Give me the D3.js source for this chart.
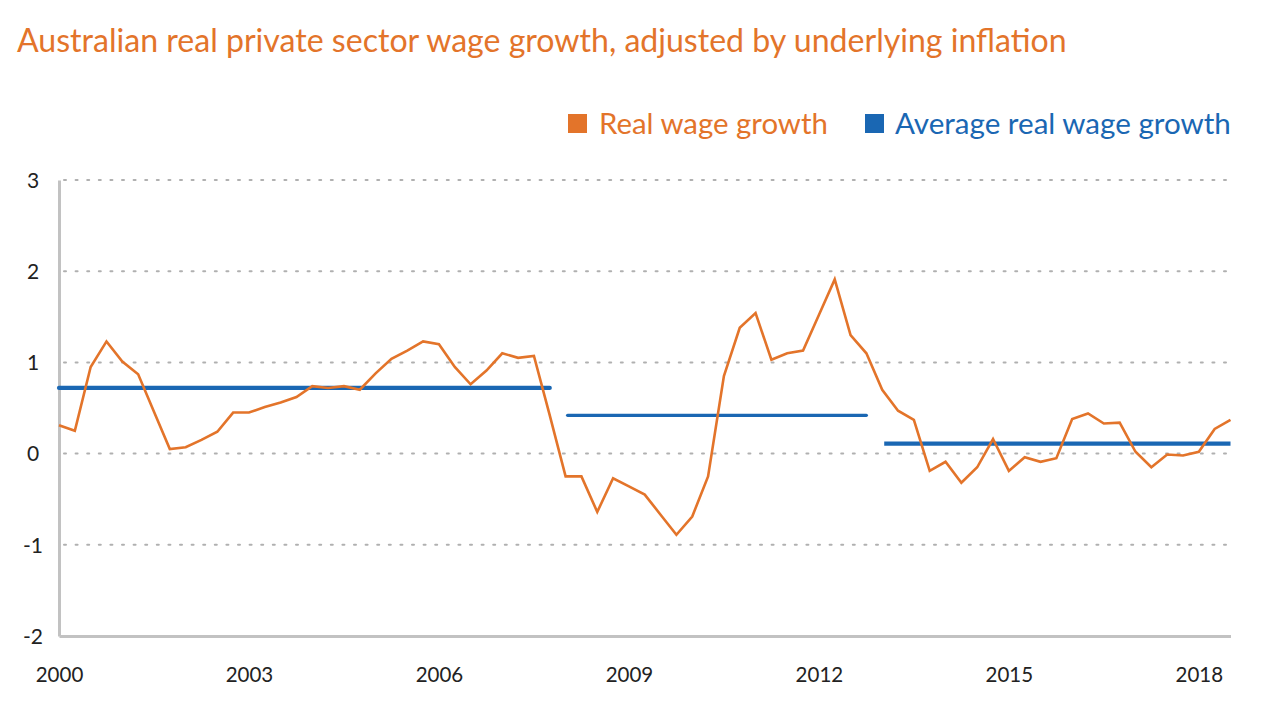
<!DOCTYPE html>
<html><head><meta charset="utf-8">
<script src="https://cdn.jsdelivr.net/npm/d3@7"></script>
<style>html,body{margin:0;padding:0;background:#fff;}svg{display:block;}</style>
</head><body>
<svg id="chart" width="1280" height="720"></svg>
<script>
const titleText = "Australian real private sector wage growth, adjusted by underlying inflation";
const seriesNames = ["Real wage growth", "Average real wage growth"];
const startYear = 2000; // quarterly from 2000 Q1
const realWage = [0.31,0.25,0.95,1.23,1.01,0.87,0.46,0.05,0.07,0.15,0.24,0.45,0.45,0.51,0.56,0.62,
  0.74,0.72,0.74,0.70,0.88,1.04,1.13,1.23,1.20,0.95,0.76,0.91,1.10,1.05,1.07,0.42,
  -0.25,-0.25,-0.64,-0.27,-0.36,-0.45,-0.67,-0.89,-0.69,-0.25,0.85,1.38,1.54,1.03,1.10,1.13,
  1.52,1.91,1.30,1.10,0.70,0.47,0.37,-0.19,-0.09,-0.32,-0.15,0.16,-0.19,-0.04,-0.09,-0.05,
  0.38,0.44,0.33,0.34,0.02,-0.15,-0.01,-0.02,0.02,0.27,0.37];
const avgStart = [2000, 2008, 2013];
const avgEnd = [2007.75, 2012.75, 2018.5];
const avgValue = [0.72, 0.42, 0.11];
const yTicks = [-2,-1,0,1,2,3];
const xTicks = [2000,2003,2006,2009,2012,2015,2018];

const orange = "#E3742A", blue = "#1A67B3", font = "Lato, 'Open Sans', sans-serif";
const svg = d3.select("#chart");
const x = d3.scaleLinear().domain([2000, 2018.5]).range([59, 1230.5]);
const y = d3.scaleLinear().domain([-2, 3]).range([636, 180]);

// title fitted to width
const t = svg.append("text").attr("x", 17).attr("y", 52).attr("fill", orange)
  .style("font-family", font).style("font-size", "26px").text(titleText);
const tw = t.node().getComputedTextLength();
t.style("font-size", (26 * 1050 / tw) + "px");

// gridlines
svg.append("g").selectAll("line").data(yTicks.filter(d => d > -2)).join("line")
  .attr("x1", 64).attr("x2", 1231).attr("y1", d => y(d)).attr("y2", d => y(d))
  .attr("stroke", "#b0b0b0").attr("stroke-width", 2).attr("stroke-dasharray", "2,9.6")
  .attr("stroke-linecap", "round");

// axes
const yAxis = d3.axisLeft(y).tickValues(yTicks).tickSize(0).tickPadding(0).tickFormat(d => String(d));
const gy = svg.append("g").attr("transform", "translate(59,0)").call(yAxis);
gy.select(".domain").attr("stroke", "#c2c2c2").attr("stroke-width", 3);
gy.selectAll("text").attr("x", -26).attr("dy", "0.35em").attr("text-anchor", "middle")
  .attr("fill", "#222").style("font-family", font).style("font-size", "21px");

const xAxis = d3.axisBottom(x).tickValues(xTicks).tickSize(0).tickPadding(0).tickFormat(d => String(d));
const gx = svg.append("g").attr("transform", "translate(0,636)").call(xAxis);
gx.select(".domain").attr("stroke", "#c2c2c2").attr("stroke-width", 3);
gx.selectAll("text").attr("y", 39).attr("dy", "0.35em").attr("fill", "#222")
  .style("font-family", font).style("font-size", "20.5px");

// average lines
svg.append("g").selectAll("line").data(avgValue).join("line")
  .attr("x1", (d, i) => x(avgStart[i]) + (i === 0 ? 0 : 2)).attr("x2", (d, i) => x(avgEnd[i]))
  .attr("y1", d => y(d)).attr("y2", d => y(d))
  .attr("stroke", blue).attr("stroke-width", (d, i) => i === 1 ? 3.2 : 4.2)
  .attr("stroke-linecap", (d, i) => i === 2 ? "butt" : "round");

// real wage line
const line = d3.line().x((d, i) => x(startYear + i / 4)).y(d => y(d));
svg.append("path").datum(realWage).attr("d", line).attr("fill", "none")
  .attr("stroke", orange).attr("stroke-width", 2.6).attr("stroke-linejoin", "miter");

// legend
const lg = svg.append("g").style("font-family", font).style("font-size", "25px");
lg.append("rect").attr("x", 568).attr("y", 114).attr("width", 19).attr("height", 19).attr("fill", orange);
const l1 = lg.append("text").attr("x", 599).attr("y", 124).attr("dy", "0.35em").attr("fill", orange).text(seriesNames[0]);
lg.append("rect").attr("x", 865).attr("y", 114).attr("width", 19).attr("height", 19).attr("fill", blue);
const l2 = lg.append("text").attr("x", 895).attr("y", 124).attr("dy", "0.35em").attr("fill", blue).text(seriesNames[1]);
l1.style("font-size", (25 * 229 / l1.node().getComputedTextLength()) + "px");
l2.style("font-size", (25 * 336 / l2.node().getComputedTextLength()) + "px");
</script>
</body></html>
